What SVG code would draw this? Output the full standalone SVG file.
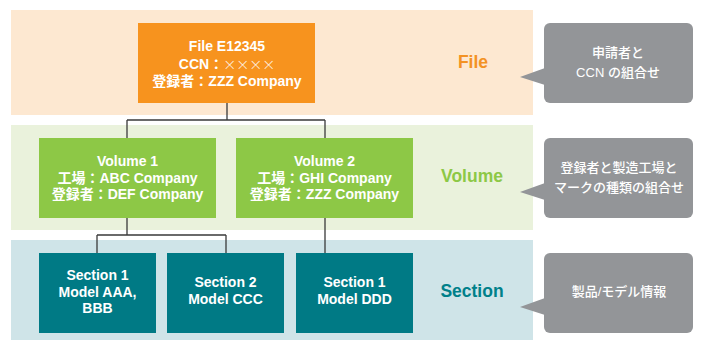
<svg xmlns="http://www.w3.org/2000/svg" width="701" height="340" viewBox="0 0 701 340">
<style>
text{font-family:"Liberation Sans","Noto Sans CJK JP",sans-serif;text-anchor:middle}
.bt{font-size:14px;font-weight:bold;fill:#fff}
.lb{font-size:17.5px;font-weight:bold}
.ct{font-size:13px;fill:#fff;font-weight:500}
.x{font-family:"Noto Sans CJK JP",sans-serif;font-weight:300;font-size:13px}
.conn{stroke:#3a3a3a;stroke-width:1.3;fill:none}
.call{fill:#939598}
</style>
<rect width="701" height="340" fill="#fff"/>
<g id="bands">
<rect x="11" y="10" width="522" height="105" fill="#fde8d1"/>
<rect x="11" y="125" width="522" height="105" fill="#eaf2dc"/>
<rect x="11" y="240" width="522" height="100" fill="#cfe4e8"/>
</g>
<g id="connectors">
<path class="conn" d="M227 103V120M127 120H325M127 120V138M325 120V138"/>
<path class="conn" d="M127 218V235M97 235H226M97 235V253M226 235V253M325 218V253"/>
</g>
<g id="file">
<rect x="138" y="23" width="177" height="80" fill="#f7931e"/>
<text class="bt" x="227" y="51">File E12345</text>
<text class="bt" x="227" y="68.5">CCN：<tspan class="x">××××</tspan></text>
<text class="bt" x="227" y="85.5">登録者：ZZZ Company</text>
</g>
<g id="volume1">
<rect x="39" y="138" width="177" height="80" fill="#8dc846"/>
<text class="bt" x="127.5" y="166">Volume 1</text>
<text class="bt" x="127.5" y="182.5">工場：ABC Company</text>
<text class="bt" x="127.5" y="199">登録者：DEF Company</text>
</g>
<g id="volume2">
<rect x="236" y="138" width="177" height="80" fill="#8dc846"/>
<text class="bt" x="324.5" y="166">Volume 2</text>
<text class="bt" x="324.5" y="182.5">工場：GHI Company</text>
<text class="bt" x="324.5" y="199">登録者：ZZZ Company</text>
</g>
<g id="section1a">
<rect x="39" y="253" width="117" height="80" fill="#007a85"/>
<text class="bt" x="97.5" y="280">Section 1</text>
<text class="bt" x="97.5" y="296.5">Model AAA,</text>
<text class="bt" x="97.5" y="313">BBB</text>
</g>
<g id="section2">
<rect x="167" y="253" width="117" height="80" fill="#007a85"/>
<text class="bt" x="225.5" y="287">Section 2</text>
<text class="bt" x="225.5" y="304">Model CCC</text>
</g>
<g id="section1b">
<rect x="296" y="253" width="117" height="80" fill="#007a85"/>
<text class="bt" x="354.5" y="287">Section 1</text>
<text class="bt" x="354.5" y="304">Model DDD</text>
</g>
<g id="labels">
<text class="lb" x="473" y="68" fill="#f39224">File</text>
<text class="lb" x="472" y="182" fill="#8dc846">Volume</text>
<text class="lb" x="472" y="297" fill="#00808a">Section</text>
</g>
<g id="callout-file">
<rect class="call" x="544" y="23" width="149" height="80" rx="6"/>
<path class="call" d="M545 68L520 77L545 85Z"/>
<text class="ct" x="618" y="57">申請者と</text>
<text class="ct" x="618" y="77">CCN の組合せ</text>
</g>
<g id="callout-volume">
<rect class="call" x="544" y="138" width="149" height="80" rx="6"/>
<path class="call" d="M545 183L520 192L545 200Z"/>
<text class="ct" x="619" y="172">登録者と製造工場と</text>
<text class="ct" x="619" y="192">マークの種類の組合せ</text>
</g>
<g id="callout-section">
<rect class="call" x="544" y="253" width="149" height="80" rx="6"/>
<path class="call" d="M545 298L520 307L545 315Z"/>
<text class="ct" x="619" y="296">製品/モデル情報</text>
</g>
</svg>
